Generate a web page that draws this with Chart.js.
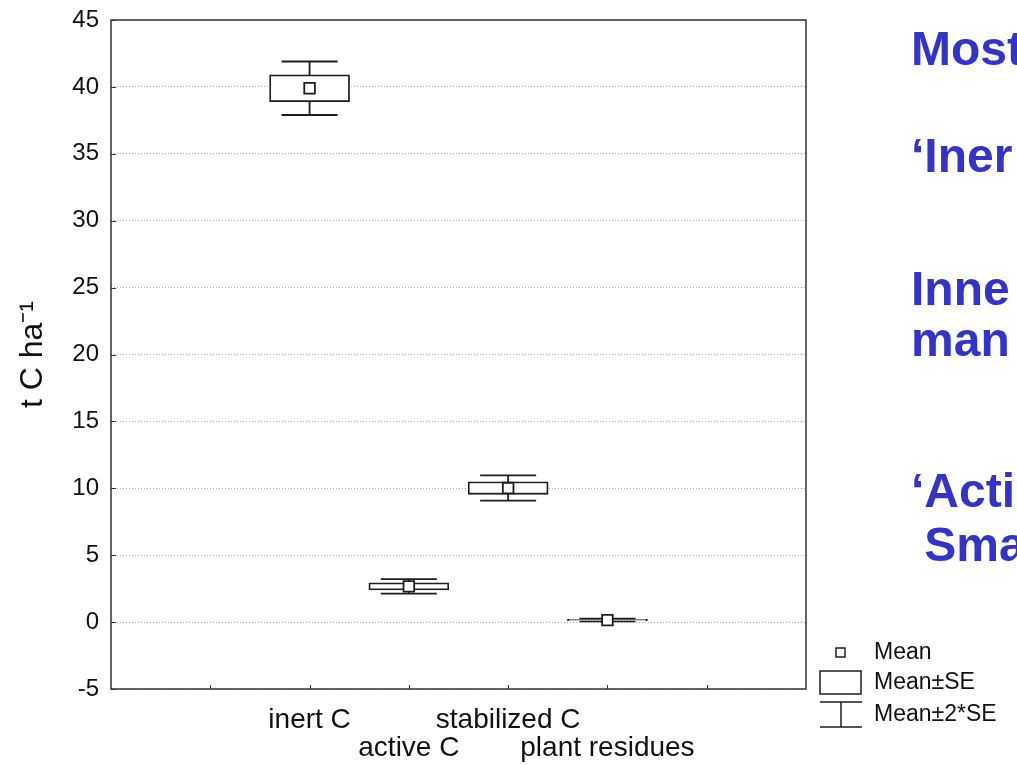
<!DOCTYPE html>
<html>
<head>
<meta charset="utf-8">
<script src="https://cdn.jsdelivr.net/npm/chart.js@4.4.0/dist/chart.umd.min.js"></script>
<style>
  html, body { margin:0; padding:0; background:#fff; }
  #c { display:block; }
</style>
</head>
<body>
<canvas id="c" width="1017" height="765"></canvas>
<script>
// ---- data
const categories = ['inert C', 'active C', 'stabilized C', 'plant residues'];
const catPos     = [2, 3, 4, 5];          // position on the x axis (0..7)
const labelRow   = [0, 1, 0, 1];          // staggered labels
const means      = [39.9, 2.67, 10.02, 0.15];
const se         = [1.0, 0.27, 0.47, 0.05];
const yMin = -5, yMax = 45, yStep = 5;
const sideLines  = ['Most', '\u2018Iner', 'Inne', 'man', '\u2018Acti', ' Sma'];

const INK  = '#1e1e1e';
const FONT = "'Liberation Sans', Arial, sans-serif";

const boxData  = means.map((m,i)=>({ x:catPos[i], y:[m-se[i], m+se[i]] }));
const meanData = means.map((m,i)=>({ x:catPos[i], y:m }));

// whiskers (mean ± 2*SE), drawn under the boxes
const whiskers = {
  id:'whiskers',
  beforeDatasetsDraw(chart){
    const {ctx, scales:{x,y}} = chart;
    ctx.save();
    ctx.strokeStyle = INK; ctx.lineWidth = 1.8;
    means.forEach((m,i)=>{
      const px = x.getPixelForValue(catPos[i]);
      const lo = y.getPixelForValue(m-2*se[i]), hi = y.getPixelForValue(m+2*se[i]);
      ctx.beginPath();
      ctx.moveTo(px, lo); ctx.lineTo(px, hi);
      ctx.moveTo(px-28, lo); ctx.lineTo(px+28, lo);
      ctx.moveTo(px-28, hi); ctx.lineTo(px+28, hi);
      ctx.stroke();
    });
    ctx.restore();
  }
};

// frame + inward tick marks
const frame = {
  id:'frame',
  afterDatasetsDraw(chart){
    const {ctx, chartArea:a, scales:{x,y}} = chart;
    ctx.save();
    ctx.strokeStyle = '#333'; ctx.lineWidth = 1.5;
    ctx.strokeRect(a.left, a.top, a.right-a.left, a.bottom-a.top);
    ctx.lineWidth = 1;
    ctx.beginPath();
    y.ticks.forEach(t=>{
      const py = Math.round(y.getPixelForValue(t.value))+0.5;
      ctx.moveTo(a.left, py); ctx.lineTo(a.left+5, py);
    });
    x.ticks.forEach(t=>{
      if (t.value<=0 || t.value>=7) return;
      const px = Math.round(x.getPixelForValue(t.value))+0.5;
      ctx.moveTo(px, a.bottom); ctx.lineTo(px, a.bottom-4);
    });
    ctx.stroke();
    ctx.restore();
  }
};

// legend + slide text on the right
const extras = {
  id:'extras',
  afterDraw(chart){
    const {ctx} = chart;
    ctx.save();
    // legend
    ctx.strokeStyle = INK; ctx.lineWidth = 1.5; ctx.fillStyle = '#fff';
    ctx.fillRect(836, 648, 9, 9); ctx.strokeRect(836, 648, 9, 9);
    ctx.strokeRect(820, 671, 41, 23);
    ctx.beginPath();
    ctx.moveTo(820, 702); ctx.lineTo(862, 702);
    ctx.moveTo(841, 702); ctx.lineTo(841, 727);
    ctx.moveTo(820, 727); ctx.lineTo(862, 727);
    ctx.stroke();
    ctx.fillStyle = '#111';
    ctx.font = `23px ${FONT}`;
    ctx.textBaseline = 'middle';
    ctx.fillText('Mean', 874, 653);
    ctx.fillText('Mean\u00b1SE', 874, 683);
    ctx.fillText('Mean\u00b12*SE', 874, 715);
    // side text
    ctx.fillStyle = '#3333cc';
    ctx.font = `bold 48px ${FONT}`;
    ctx.textBaseline = 'alphabetic';
    const base = [65, 172, 305, 356, 507, 561];
    sideLines.forEach((s,i)=> ctx.fillText(s, 911, base[i]));
    ctx.restore();
  }
};

new Chart(document.getElementById('c').getContext('2d'), {
  type:'bar',
  data:{
    datasets:[
      { type:'scatter', data:meanData, order:1,
        pointStyle:'rect', radius:7.5, hoverRadius:7.5,
        backgroundColor:'#fff', borderColor:INK, borderWidth:1.8 },
      { type:'bar', data:boxData, order:2,
        barThickness:80, grouped:false, borderSkipped:false,
        backgroundColor:'#fff', borderColor:INK, borderWidth:1.8 }
    ]
  },
  options:{
    responsive:false,
    animation:false,
    layout:{ padding:{ top:20, right:211, left:0, bottom:0 } },
    plugins:{ legend:{display:false}, tooltip:{enabled:false} },
    scales:{
      x:{
        type:'linear', min:0, max:7, offset:false,
        grid:{ display:false, drawTicks:false },
        border:{ display:false },
        afterFit(s){ s.height = 76; },
        ticks:{
          stepSize:1, autoSkip:false, maxRotation:0, minRotation:0,
          padding:17, color:'#111',
          font:{ family:FONT, size:28, lineHeight:1.0 },
          callback(v){
            const i = catPos.indexOf(v);
            if (i<0) return '';
            return labelRow[i] ? ['', categories[i]] : [categories[i]];
          }
        }
      },
      y:{
        min:yMin, max:yMax,
        grid:{ color:'#aaa', lineWidth:1, drawTicks:false },
        border:{ display:false, dash:[1,2] },
        afterFit(s){ s.width = 111; },
        ticks:{ stepSize:yStep, padding:12, color:'#111', font:{ family:FONT, size:24, lineHeight:0.6 } },
        title:{ display:true, text:'t C ha\u207b\u00b9', color:'#111',
                font:{ family:FONT, size:32 }, padding:{ top:14, bottom:0 } }
      }
    }
  },
  plugins:[whiskers, frame, extras]
});
</script>
</body>
</html>
